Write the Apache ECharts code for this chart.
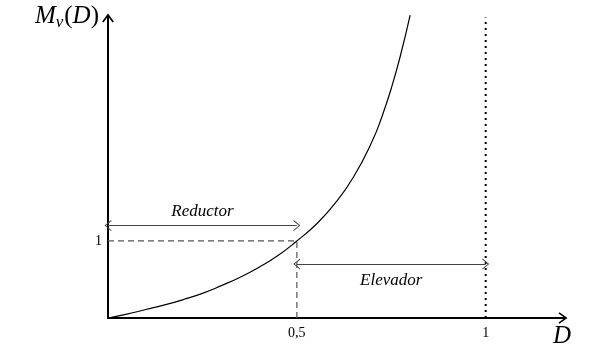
<!DOCTYPE html>
<html><head><meta charset="utf-8">
<script src="https://cdn.jsdelivr.net/npm/echarts@6/dist/echarts.min.js"></script>
<style>html,body{margin:0;padding:0;background:#fff}#c{width:590px;height:351px}</style>
</head><body><div id="c"></div>
<script>
// Duty cycle D (x) and voltage gain M_v(D) (y)
const dutyValues = [0, 0.05, 0.1, 0.15, 0.2, 0.25, 0.3, 0.35, 0.4, 0.45, 0.5, 0.55, 0.6, 0.65, 0.7, 0.725, 0.75, 0.775, 0.8];
const gainValues = [0, 0.05, 0.11, 0.17, 0.24, 0.32, 0.42, 0.53, 0.66, 0.81, 1.0, 1.21, 1.48, 1.83, 2.30, 2.61, 2.98, 3.42, 3.93];
const xTickLabels = {"0.5": "0,5", "1": "1"};
const yTickLabels = {"1": "1"};
const markD = 0.5, markM = 1, limitD = 1;
const reductorLabel = "Reductor", elevadorLabel = "Elevador";
const reductorLevel = 1.2, elevadorLevel = 0.7, limitTop = 3.9;

const serif = "Liberation Serif";
const openArrow = 'path://M0,0 L6,10 L5,10.6 L0,2.2 L-5,10.6 L-6,10 Z';
const axisArrow = 'path://M0,0 L6.5,9 L5,10 L0,3 L-5,10 L-6.5,9 Z';
const chart = echarts.init(document.getElementById('c'));
chart.setOption({
  animation: false,
  grid: {left: 108, top: 16, right: 25, bottom: 33},
  xAxis: {
    type: 'value', min: 0, max: 1.21, interval: 0.5,
    axisLine: {lineStyle: {color: '#000', width: 2}, symbol: ['none', axisArrow], symbolSize: [13, 9], symbolOffset: [0, -2]},
    axisTick: {show: false}, splitLine: {show: false},
    axisLabel: {showMaxLabel: false, formatter: v => xTickLabels[String(v)] || '', fontFamily: serif, fontSize: 14, color: '#000', margin: 8},
    name: 'D', nameLocation: 'end', nameGap: -3,
    nameTextStyle: {fontFamily: serif, fontStyle: 'italic', fontSize: 25, color: '#000', verticalAlign: 'top', align: 'center', padding: [6, 0, 0, 0]}
  },
  yAxis: {
    type: 'value', min: 0, max: 3.92, interval: 1,
    axisLine: {lineStyle: {color: '#000', width: 2}, symbol: ['none', axisArrow], symbolSize: [13, 9], symbolOffset: [0, -2]},
    axisTick: {show: false}, splitLine: {show: false},
    axisLabel: {showMaxLabel: false, formatter: v => yTickLabels[String(v)] || '', fontFamily: serif, fontSize: 14, color: '#000', margin: 6},
    name: '{i|M}{s|v}{n|(}{i|D}{n|)}', nameLocation: 'end', nameGap: 4,
    nameTextStyle: {align: 'right', verticalAlign: 'bottom', padding: [0, 9, -19, 0],
      rich: {
        i: {fontFamily: serif, fontStyle: 'italic', fontSize: 25, color: '#000'},
        n: {fontFamily: serif, fontSize: 25, color: '#000'},
        s: {fontFamily: serif, fontStyle: 'italic', fontSize: 17, color: '#000', verticalAlign: 'bottom', padding: [12, 1, 0, 0]}
      }}
  },
  series: [
    {
      type: 'line', data: dutyValues.map((d, i) => [d, gainValues[i]]),
      smooth: true, showSymbol: false, clip: false,
      lineStyle: {color: '#000', width: 1.2}
    },
    {
      type: 'line', data: [[0, markM], [markD, markM], [markD, 0]],
      showSymbol: false, lineStyle: {color: '#555', width: 1.2, type: [6, 4]}
    },
    {
      type: 'line', data: [[limitD, 0], [limitD, limitTop]],
      showSymbol: false, lineStyle: {color: '#000', width: 2, type: [2, 4]}
    },
    {
      type: 'line', data: [],
      markLine: {
        silent: true, symbol: [openArrow, openArrow], symbolSize: [11, 7],
        lineStyle: {color: '#444', width: 1.2, type: 'solid'},
        data: [
          [{coord: [0, reductorLevel], label: {show: true, position: 'middle', formatter: reductorLabel, distance: 6}},
           {coord: [markD, reductorLevel]}],
          [{coord: [markD, elevadorLevel], label: {show: true, position: 'middle', formatter: elevadorLabel, verticalAlign: 'top', distance: [0, -8]}},
           {coord: [limitD, elevadorLevel]}]
        ],
        label: {fontFamily: serif, fontStyle: 'italic', fontSize: 17, color: '#000'}
      }
    }
  ]
});
</script></body></html>
